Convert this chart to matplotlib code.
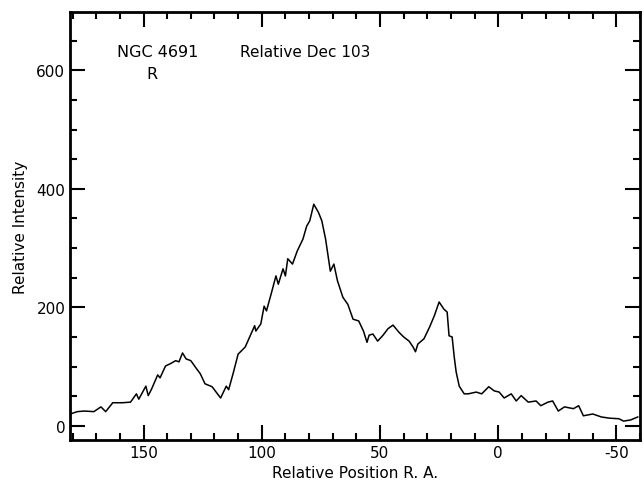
import matplotlib
matplotlib.use("Agg")
import matplotlib.pyplot as plt
from matplotlib.ticker import MultipleLocator

# traced profile, NGC 4691, relative Dec 103
pos = [181, 178, 175, 171, 168, 166, 163, 159, 155.5, 153, 152, 149, 148, 146.6, 144, 143,
       140.7, 138.6, 136.4, 135, 133.5, 132, 130, 127.5, 126, 124, 121, 117.4, 115, 114,
       112, 110, 107, 104, 103, 102.5, 100.4, 99, 98, 96, 94, 93, 91, 90, 89, 87, 85, 82.6,
       81, 79.7, 78, 76, 74.6, 73, 71, 69.5, 68, 65.7, 63.6, 61.4, 59, 57, 55.5, 54.6, 53,
       51, 48.7, 46.6, 44.5, 42, 40, 37.7, 36, 35, 34, 31.4, 29, 27, 25, 23, 21.6, 20.8,
       19.5, 18.6, 17.8, 16.5, 14.4, 12.7, 9.3, 7, 4, 1.7, -0.4, -2.5, -5.5, -7.6, -9.7,
       -12.7, -16, -18, -21, -23, -25.4, -28, -31.8, -34, -36, -40, -43.6, -47, -51, -53,
       -56, -59]
intensity = [20, 24, 25, 24, 32, 24, 39, 39, 40, 54, 45, 67, 51, 62, 86, 81,
             101, 105, 110, 108, 123, 113, 110, 96, 88, 71, 66, 47, 67, 61,
             90, 121, 133, 160, 169, 160, 172, 202, 194, 223, 253, 239, 265, 253, 282, 273, 295, 315,
             337, 346, 374, 360, 346, 315, 261, 273, 245, 217, 205, 180, 177, 160, 141, 153, 155,
             143, 153, 164, 170, 158, 150, 143, 133, 125, 138, 147, 167, 186, 209, 197, 192, 152,
             150, 116, 91, 67, 54, 54, 57, 54, 66, 59, 57, 47, 54, 42, 51,
             40, 42, 34, 40, 42, 25, 32, 29, 34, 17, 20, 15, 13, 12, 8,
             10, 15]

plt.rcParams['font.family'] = ['DejaVu Sans']

fig = plt.figure(figsize=(6.44, 4.89), dpi=100)
ax = fig.add_axes([0.109, 0.098, 0.885, 0.875])

ax.plot(pos, intensity, color='black', linewidth=1.1)

ax.set_xlim(181, -60)
ax.set_ylim(-24, 698)

ax.xaxis.set_minor_locator(MultipleLocator(10))
ax.yaxis.set_major_locator(MultipleLocator(200))
ax.yaxis.set_minor_locator(MultipleLocator(50))
ax.set_xticks([150, 100, 50, 0, -50])
ax.set_xticklabels(['150', '100', '50', '0', '-50'])

ax.tick_params(which='both', direction='in', top=True, right=True, width=1.5, labelsize=11)
ax.tick_params(which='major', length=11)
ax.tick_params(which='minor', length=5)

for sp in ax.spines.values():
    sp.set_linewidth(2)

ax.set_xlabel("Relative Position R. A.", fontsize=11)
ax.set_ylabel("Relative Intensity", fontsize=11, labelpad=6)

ax.text(0.082, 0.909, "NGC 4691", transform=ax.transAxes, fontsize=11.5, va='center')
ax.text(0.144, 0.857, "R", transform=ax.transAxes, fontsize=11.5, ha='center', va='center')
ax.text(0.298, 0.909, "Relative Dec 103", transform=ax.transAxes, fontsize=11, va='center')

fig.savefig("out.png", dpi=100)
